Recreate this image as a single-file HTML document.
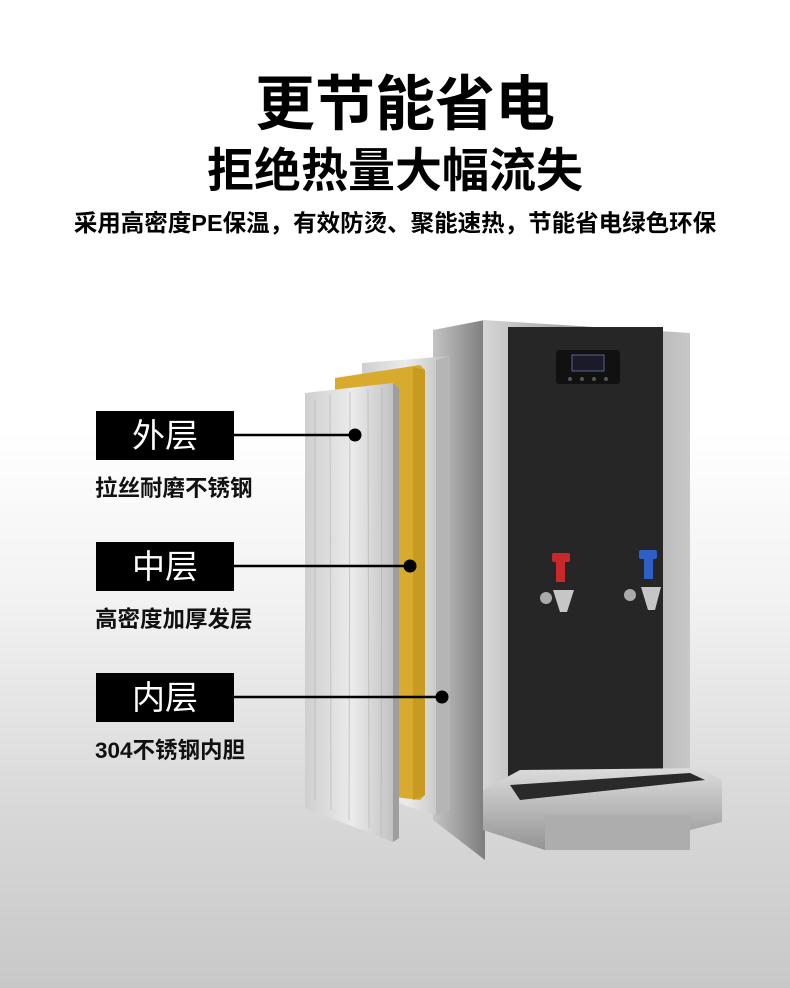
<!DOCTYPE html>
<html><head><meta charset="utf-8"><style>
html,body{margin:0;padding:0}
body{width:790px;height:988px;position:relative;overflow:hidden;font-family:"Liberation Sans","Noto Sans CJK SC",sans-serif;background:linear-gradient(#fff 0,#fff 430px,#f2f2f2 600px,#d9d9d9 800px,#c8c8c8 988px)}
.t{position:absolute;left:0;width:790px;text-align:center;color:#000;font-weight:bold;white-space:nowrap}
.box{position:absolute;left:96px;width:138px;height:49px;background:#000;color:#fff;font-size:33px;text-align:center;line-height:49px}
.sub{position:absolute;left:95px;font-size:22.5px;font-weight:bold;color:#111;line-height:26px}
</style></head><body>
<div class="t" style="top:72px;font-size:60px;line-height:66px;left:10px">更节能省电</div>
<div class="t" style="top:144px;font-size:47px;line-height:54px">拒绝热量大幅流失</div>
<div class="t" style="top:208px;font-size:23.5px;line-height:30px">采用高密度PE保温，有效防烫、聚能速热，节能省电绿色环保</div>

<svg style="position:absolute;left:0;top:0" width="790" height="988">
<defs>
<linearGradient id="side" x1="0" x2="1"><stop offset="0" stop-color="#c4c4c4"/><stop offset="1" stop-color="#7d7d7d"/></linearGradient>
<linearGradient id="frame" x1="0" x2="1"><stop offset="0" stop-color="#d6d6d6"/><stop offset="0.5" stop-color="#9a9a9a"/><stop offset="1" stop-color="#c8c8c8"/></linearGradient>
<linearGradient id="alu" x1="0" x2="1"><stop offset="0" stop-color="#cfcfcf"/><stop offset="0.5" stop-color="#ebebeb"/><stop offset="1" stop-color="#bcbcbc"/></linearGradient>
<linearGradient id="base" x1="0" y1="0" x2="0" y2="1"><stop offset="0" stop-color="#dcdcdc"/><stop offset="1" stop-color="#949494"/></linearGradient>
</defs>
<polygon points="433,330 485,320 485,860 433,820" fill="url(#side)"/>
<polygon points="483,320 690,333 690,790 483,790" fill="url(#frame)"/>
<rect x="508" y="327" width="155" height="458" fill="#262626"/>
<rect x="556" y="350" width="64" height="34" rx="3" fill="#111"/>
<rect x="572" y="355" width="32" height="16" fill="#1a1a2a" stroke="#6a7aa0" stroke-width="0.8"/>
<circle cx="570" cy="379" r="2" fill="#555"/><circle cx="582" cy="379" r="2" fill="#555"/><circle cx="594" cy="379" r="2" fill="#555"/><circle cx="606" cy="379" r="2" fill="#555"/>
<polygon points="483,790 520,770 700,768 722,780 722,822 690,830 690,850 545,850 483,830" fill="url(#base)"/>
<polygon points="510,785 690,773 705,780 520,800" fill="#2a2a2a"/>
<rect x="545" y="815" width="145" height="35" fill="#adadad"/>
<rect x="552" y="553" width="18" height="9" rx="2" fill="#c8282a"/><rect x="556" y="560" width="9" height="22" fill="#c8282a"/>
<circle cx="546" cy="598" r="6" fill="#aaa"/><polygon points="553,590 574,590 567,612 560,612" fill="#c6c6c6"/>
<rect x="639" y="550" width="18" height="9" rx="2" fill="#2d5fc4"/><rect x="644" y="557" width="9" height="22" fill="#2d5fc4"/>
<circle cx="630" cy="595" r="6" fill="#aaa"/><polygon points="641,587 661,587 655,610 648,610" fill="#c6c6c6"/>
<polygon points="362,363 450,356 450,810 433,815 362,790" fill="url(#alu)"/>
<polygon points="436,360 450,356 450,810 436,815" fill="#b5b5b5"/>
<polygon points="335,378 420,365 425,370 425,795 420,800 335,790" fill="#d8aa2e"/>
<polygon points="413,367 425,370 425,795 413,800" fill="#c89a22"/>
<polygon points="305,393 393,383 399,388 399,838 393,842 305,808" fill="url(#alu)"/>
<polygon points="393,383 399,388 399,838 393,842" fill="#9e9e9e"/>
<g stroke="#b0b0b0" stroke-width="1" opacity="0.6">
<line x1="315" y1="400" x2="315" y2="800"/><line x1="330" y1="395" x2="331" y2="810"/><line x1="350" y1="392" x2="349" y2="820"/><line x1="368" y1="390" x2="369" y2="828"/><line x1="382" y1="388" x2="381" y2="835"/>
</g>
<g stroke="#000" stroke-width="2.5"><line x1="234" y1="435" x2="355" y2="435"/><line x1="234" y1="566" x2="410" y2="566"/><line x1="234" y1="697" x2="442" y2="697"/></g>
<circle cx="355" cy="435" r="6.5" fill="#000"/><circle cx="410" cy="566" r="6.5" fill="#000"/><circle cx="442" cy="697" r="6.5" fill="#000"/>
</svg>

<div class="box" style="top:411px">外层</div>
<div class="sub" style="top:476px">拉丝耐磨不锈钢</div>
<div class="box" style="top:542px">中层</div>
<div class="sub" style="top:607px">高密度加厚发层</div>
<div class="box" style="top:673px">内层</div>
<div class="sub" style="top:738px">304不锈钢内胆</div>
</body></html>
